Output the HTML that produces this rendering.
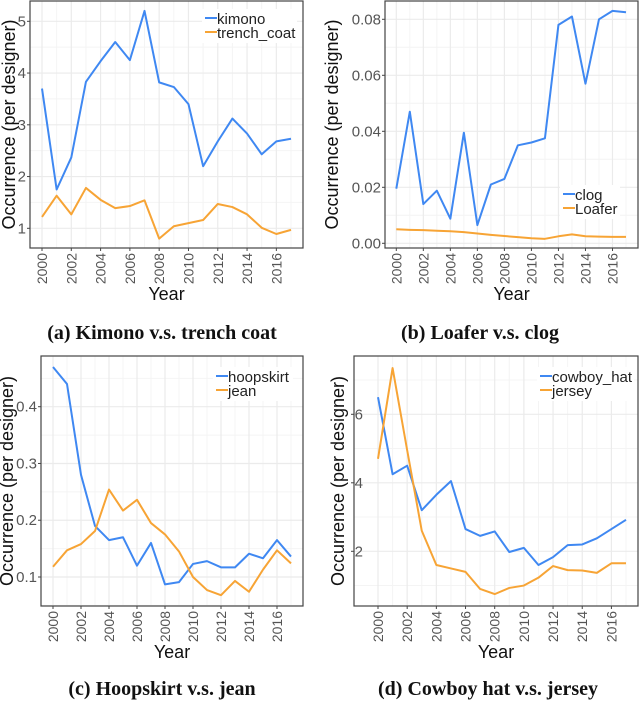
<!DOCTYPE html>
<html><head><meta charset="utf-8"><style>
body{margin:0;background:#fff;}
svg{display:block;font-family:"Liberation Sans",sans-serif;}
</style></head><body>
<svg id="chart" width="640" height="702"></svg>
<script>
const years=[2000,2001,2002,2003,2004,2005,2006,2007,2008,2009,2010,2011,2012,2013,2014,2015,2016,2017];
const yearTicks=[2000,2002,2004,2006,2008,2010,2012,2014,2016];
const kimono=[3.7,1.75,2.37,3.83,4.23,4.6,4.25,5.2,3.82,3.73,3.4,2.2,2.68,3.12,2.83,2.43,2.68,2.73];
const trenchCoat=[1.22,1.63,1.27,1.78,1.55,1.39,1.43,1.54,0.8,1.04,1.1,1.16,1.47,1.41,1.27,1.01,0.89,0.97];
const clog=[.0195,.047,.014,.0188,.0088,.0395,.0065,.021,.023,.035,.036,.0375,.078,.081,.057,.080,.083,.0825];
const loafer=[.005,.0048,.0047,.0045,.0043,.004,.0035,.003,.0026,.0022,.0018,.0016,.0025,.0032,.0025,.0024,.0023,.0023];
const hoopskirt=[.47,.44,.28,.19,.165,.17,.12,.16,.087,.091,.123,.128,.117,.117,.141,.133,.165,.136];
const jean=[.118,.147,.158,.181,.254,.217,.236,.195,.175,.145,.10,.077,.068,.093,.074,.113,.147,.124];
const cowboyHat=[6.5,4.25,4.5,3.2,3.65,4.05,2.65,2.45,2.58,1.98,2.1,1.6,1.83,2.18,2.2,2.38,2.65,2.92];
const jersey=[4.7,7.35,4.95,2.6,1.6,1.5,1.4,0.9,0.75,0.93,1.0,1.23,1.57,1.45,1.44,1.37,1.65,1.65];
const ticksA=[1,2,3,4,5], labelsA=["1","2","3","4","5"];
const ticksB=[0,0.02,0.04,0.06,0.08], labelsB=["0.00","0.02","0.04","0.06","0.08"];
const ticksC=[0.1,0.2,0.3,0.4], labelsC=["0.1","0.2","0.3","0.4"];
const ticksD=[2,4,6], labelsD=["2","4","6"];

const NS="http://www.w3.org/2000/svg";
const svg=document.getElementById('chart');
function mk(tag,attrs,parent,text){const e=document.createElementNS(NS,tag);for(const k in attrs)e.setAttribute(k,attrs[k]);if(text!==undefined)e.textContent=text;(parent||svg).appendChild(e);return e;}
const BLUE="#3f88f2",ORANGE="#f7a435";

function panel(cfg){
  const g=mk('g',{});
  
  
  const x=v=>cfg.x0+(v-2000)*(cfg.x1-cfg.x0)/17;
  const y=v=>cfg.y0+(v-cfg.v0)*(cfg.y1-cfg.y0)/(cfg.v1-cfg.v0);
  const step=cfg.ticks[1]-cfg.ticks[0];
  for(let i=-1;i<cfg.ticks.length;i++){
    const mv=cfg.ticks[0]+step*(i+0.5);const py=y(mv);
    if(py>cfg.top&&py<cfg.bot)mk('line',{x1:cfg.L,x2:cfg.R,y1:py,y2:py,stroke:'#f4f4f4','stroke-width':1},g);
  }
  years.forEach(yr=>{mk('line',{x1:x(yr),x2:x(yr),y1:cfg.top,y2:cfg.bot,stroke:yr%2?'#f4f4f4':'#ebebeb','stroke-width':yr%2?1:1.2},g);});
  const yt=mk('text',{x:0,y:0,transform:`translate(${cfg.ytx},${(cfg.top+cfg.bot)/2}) rotate(-90)`,'text-anchor':'middle','font-size':18,fill:'#111'},g,'Occurrence (per designer)');
  
  cfg.ticks.forEach((t,i)=>{const py=y(t);
    mk('line',{x1:cfg.L,x2:cfg.R,y1:py,y2:py,stroke:'#ebebeb','stroke-width':1.2},g);
    mk('line',{x1:cfg.L-3,x2:cfg.L,y1:py,y2:py,stroke:'#444'},g);
    const t1=mk('text',{x:cfg.tlx!==undefined?cfg.tlx:cfg.L-4,y:py+5,'text-anchor':'end','font-size':15,fill:'#555'},g,cfg.labels[i]);
    
  });
  yearTicks.forEach(yr=>{const px=x(yr);
    mk('line',{x1:px,x2:px,y1:cfg.bot,y2:cfg.bot+3,stroke:'#444'},g);
    const t=mk('text',{x:0,y:0,transform:`translate(${px+5},${cfg.bot+5}) rotate(-90)`,'text-anchor':'end','font-size':14,fill:'#555'},g,String(yr));
    
  });
  mk('rect',{x:cfg.L,y:cfg.top,width:cfg.R-cfg.L,height:cfg.bot-cfg.top,fill:'none',stroke:'#444','stroke-width':1.2},g);
  cfg.series.forEach(s=>{
    const p=mk('polyline',{points:s.data.map((v,i)=>x(years[i])+','+y(v)).join(' '),fill:'none',stroke:s.color,'stroke-width':2,'stroke-linejoin':'round'},g);
    
  });
  const lg=mk('g',{},g);
  mk('rect',{x:cfg.lx-3,y:cfg.ly-14,width:cfg.lw,height:cfg.series.length*14+6,fill:'#fff'},lg);
  cfg.series.forEach((s,i)=>{const ly=cfg.ly+i*14;
    mk('line',{x1:cfg.lx,x2:cfg.lx+12,y1:ly-5,y2:ly-5,stroke:s.color,'stroke-width':2},lg);
    const t=mk('text',{x:cfg.lx+12,y:ly+1,'font-size':15,fill:'#222'},lg,s.label);
    
  });
  const xt=mk('text',{x:(cfg.L+cfg.R)/2,y:cfg.bot+52,'text-anchor':'middle','font-size':18,fill:'#111'},g,'Year');
  
  const c=mk('text',{x:cfg.cx,y:cfg.cy,'text-anchor':'middle','font-size':20,'font-weight':'bold','font-family':'"Liberation Serif",serif',fill:'#111'},g,cfg.caption);
  
}
panel({name:'panel-a',L:30,R:303,top:1,bot:248,x0:42,x1:291,v0:1,v1:5,y0:228.3,y1:21.3,ticks:ticksA,labels:labelsA,
  series:[{label:'kimono',data:kimono,color:BLUE},{label:'trench_coat',data:trenchCoat,color:ORANGE}],lx:205,ly:23,lw:95,ytx:15,cx:162,cy:339,caption:'(a) Kimono v.s. trench coat'});
panel({name:'panel-b',L:385,R:638,top:1,bot:248,x0:396.3,x1:626,v0:0,v1:0.08,y0:243.3,y1:19.3,ticks:ticksB,labels:labelsB,
  series:[{label:'clog',data:clog,color:BLUE},{label:'Loafer',data:loafer,color:ORANGE}],lx:563,ly:199,lw:60,ytx:338,cx:480,cy:339,caption:'(b) Loafer v.s. clog'});
panel({name:'panel-c',L:41,R:303,top:356,bot:606,x0:53,x1:291,v0:0.1,v1:0.4,y0:577,y1:406.7,ticks:ticksC,labels:labelsC,
  series:[{label:'hoopskirt',data:hoopskirt,color:BLUE},{label:'jean',data:jean,color:ORANGE}],lx:216,ly:381,lw:80,ytx:13,cx:162,cy:695,caption:'(c) Hoopskirt v.s. jean'});
panel({name:'panel-d',L:354,R:638,top:356,bot:606,x0:378,x1:626,v0:2,v1:6,y0:551.3,y1:414.3,ticks:ticksD,labels:labelsD,
  series:[{label:'cowboy_hat',data:cowboyHat,color:BLUE},{label:'jersey',data:jersey,color:ORANGE}],lx:540,ly:381,lw:97,ytx:344,tlx:363,cx:488,cy:695,caption:'(d) Cowboy hat v.s. jersey'});
</script>
</body></html>
